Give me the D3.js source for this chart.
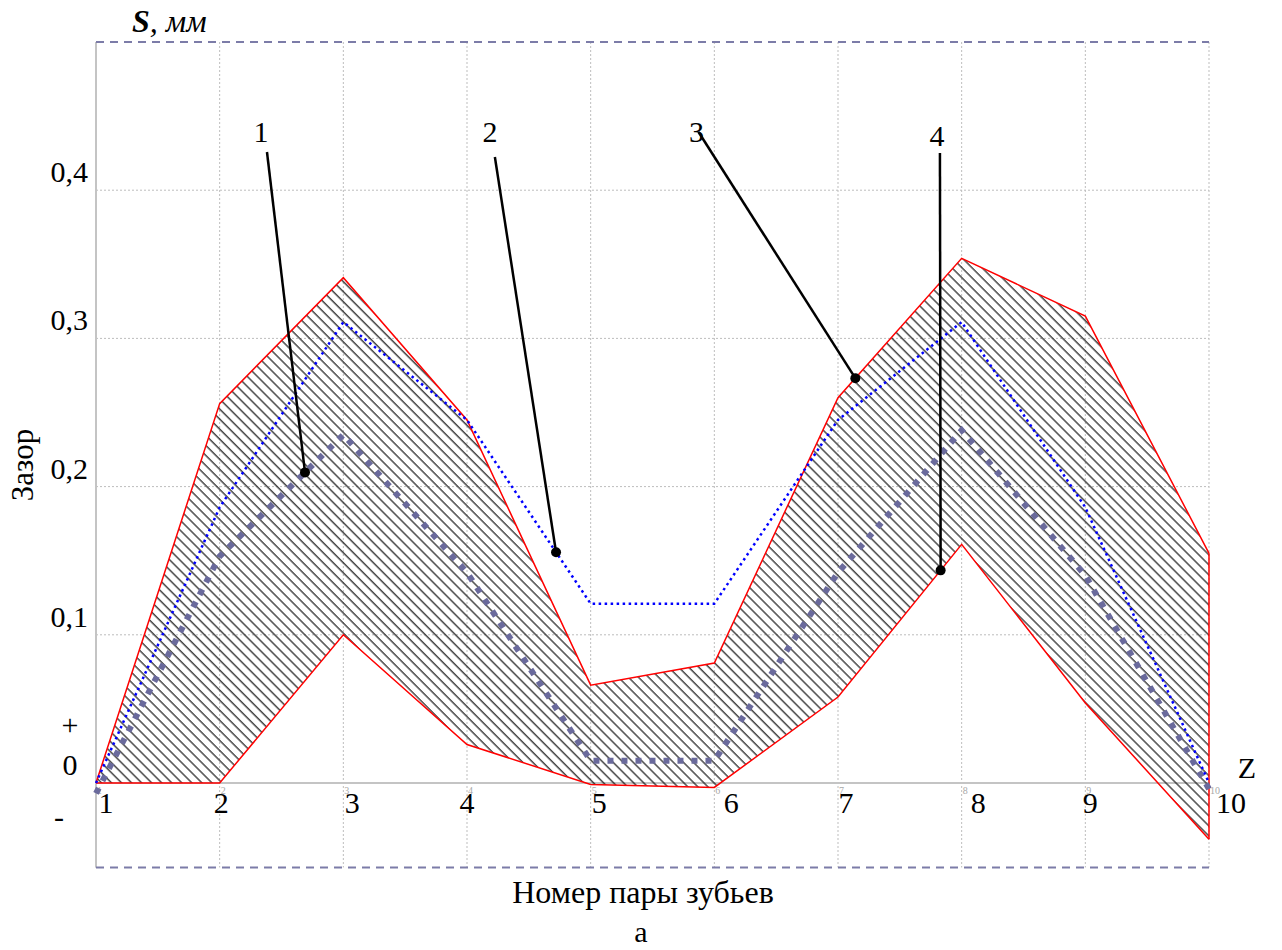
<!DOCTYPE html>
<html><head><meta charset="utf-8">
<script src="https://cdn.jsdelivr.net/npm/d3@7"></script>
<style>html,body{margin:0;padding:0;background:#fff;} svg{display:block;} text{font-family:"Liberation Serif","Times New Roman",serif;}</style>
</head><body>
<svg id="c" width="1282" height="950"></svg>
<script>
// ---- data ----
const pairs = [1,2,3,4,5,6,7,8,9,10];
const upperBound = [0, 0.256, 0.341, 0.245, 0.066, 0.081, 0.260, 0.354, 0.315, 0.155];
const lowerBound = [0, 0, 0.100, 0.026, -0.001, -0.003, 0.058, 0.161, 0.054, -0.038];
const blueSeries = [0, 0.186, 0.311, 0.245, 0.121, 0.121, 0.245, 0.311, 0.186, 0];
const meanSeries = [-0.007, 0.153, 0.235, 0.142, 0.015, 0.015, 0.142, 0.238, 0.140, -0.004];
const yTicks = [0.1, 0.2, 0.3, 0.4];
const yTickLabels = ["0,1", "0,2", "0,3", "0,4"];
const xTickLabels = ["1","2","3","4","5","6","7","8","9","10"];
const annoLabels = ["1","2","3","4"];
const annoTargetX = [2.69, 4.72, 7.14, 7.83];
const annoLabelX = [2.334, 4.185, 5.856, 7.80];

// ---- layout ----
const svg = d3.select("#c");
const x = d3.scaleLinear().domain([1,10]).range([96,1209]);
const y = d3.scaleLinear().domain([0,0.5]).range([783,42]);
const yBottom = y(-0.057);
const labelDx = [10,1.5,9,0,8.5,17,8,16.5,5,22];
const FS = 30;

// hatch pattern (backslash direction)
const defs = svg.append("defs");
const pat = defs.append("pattern").attr("id","hatch").attr("patternUnits","userSpaceOnUse")
  .attr("width",7.1).attr("height",10).attr("patternTransform","rotate(-45)");
pat.append("line").attr("x1",1).attr("y1",-1).attr("x2",1).attr("y2",11)
  .attr("stroke","#222").attr("stroke-width",1.25);

// grid
const grid = svg.append("g");
grid.selectAll("line.v").data(pairs).join("line")
  .attr("x1",d=>x(d)).attr("x2",d=>x(d)).attr("y1",y(0.5)).attr("y2",yBottom)
  .attr("stroke","#bdbdbd").attr("stroke-width",1).attr("stroke-dasharray","2,2");
grid.selectAll("line.h").data(yTicks).join("line")
  .attr("x1",x(1)).attr("x2",x(10)).attr("y1",d=>y(d)).attr("y2",d=>y(d))
  .attr("stroke","#bdbdbd").attr("stroke-width",1).attr("stroke-dasharray","2,2");

// left axis & zero line
svg.append("line").attr("x1",x(1)).attr("x2",x(1)).attr("y1",y(0.5)).attr("y2",yBottom)
  .attr("stroke","#c4c4c4").attr("stroke-width",2);
svg.append("line").attr("x1",x(1)).attr("x2",x(10)).attr("y1",y(0)).attr("y2",y(0))
  .attr("stroke","#c4c4c4").attr("stroke-width",2);

// dashed frame lines
svg.append("line").attr("x1",x(1)).attr("x2",x(10)).attr("y1",y(0.5)).attr("y2",y(0.5))
   .attr("stroke","#7c7ca8").attr("stroke-width",2).attr("stroke-dasharray","8,6");
svg.append("line").attr("x1",x(1)).attr("x2",x(10)).attr("y1",yBottom).attr("y2",yBottom)
   .attr("stroke","#7c7ca8").attr("stroke-width",2).attr("stroke-dasharray","8,6");

// small gray tick numbers
svg.selectAll("text.small").data(pairs).join("text")
  .attr("x",d=>x(d)+1).attr("y",y(0)+11).attr("font-size",10).attr("fill","#a8a8a8")
  .text(d=>d);

// band
const band = pairs.map((p,i)=>({p, lo:lowerBound[i], hi:upperBound[i]}));
const area = d3.area().x(d=>x(d.p)).y0(d=>y(d.lo)).y1(d=>y(d.hi));
svg.append("path").datum(band).attr("d",area).attr("fill","url(#hatch)").attr("stroke","none");
const lineGen = d3.line().x((d,i)=>x(pairs[i])).y(d=>y(d));
svg.append("path").datum(upperBound).attr("d",lineGen).attr("fill","none").attr("stroke","#ff0000").attr("stroke-width",1.5);
svg.append("path").datum(lowerBound).attr("d",lineGen).attr("fill","none").attr("stroke","#ff0000").attr("stroke-width",1.5);
svg.append("line").attr("x1",x(10)).attr("x2",x(10)).attr("y1",y(upperBound[9])).attr("y2",y(lowerBound[9]))
  .attr("stroke","#ff0000").attr("stroke-width",1.5);

// series
svg.append("path").datum(meanSeries).attr("d",lineGen).attr("fill","none")
  .attr("stroke","#6a6a9c").attr("stroke-width",6).attr("stroke-dasharray","6,8");
svg.append("path").datum(blueSeries).attr("d",lineGen).attr("fill","none")
  .attr("stroke","#0000ff").attr("stroke-width",2.5).attr("stroke-dasharray","2.5,3.5");

// annotations
function interp(arr, xv){
  const i = Math.floor(xv)-1, t = xv - Math.floor(xv);
  return arr[i] + (arr[i+1]-arr[i])*t;
}
const annoSeries = [meanSeries, blueSeries, upperBound, lowerBound];
const annoLineTopPx = [152, 157, 132, 153];
const annoLineDx = [6, 5, 2, 3];
annoLabels.forEach((lab,k)=>{
  const tx = x(annoTargetX[k]), ty = y(interp(annoSeries[k], annoTargetX[k]));
  const lx = x(annoLabelX[k]);
  svg.append("line").attr("x1",lx+annoLineDx[k]).attr("y1",annoLineTopPx[k]).attr("x2",tx).attr("y2",ty)
    .attr("stroke","#000").attr("stroke-width",2.5);
  svg.append("circle").attr("cx",tx).attr("cy",ty).attr("r",5).attr("fill","#000");
  svg.append("text").attr("x",lx).attr("y",k===3?146:142).attr("text-anchor","middle").attr("font-size",FS).text(lab);
});

// axis labels
svg.selectAll("text.yl").data(yTicks).join("text")
  .attr("x",88).attr("y",d=>y(d)-8).attr("text-anchor","end").attr("font-size",FS)
  .text((d,i)=>yTickLabels[i]);
svg.selectAll("text.xl").data(pairs).join("text")
  .attr("x",(d,i)=>x(d)+labelDx[i]).attr("y",y(0)+30).attr("text-anchor","middle").attr("font-size",FS)
  .text((d,i)=>xTickLabels[i]);

svg.append("text").attr("x",70).attr("y",775).attr("text-anchor","middle").attr("font-size",FS).text("0");
svg.append("text").attr("x",70).attr("y",735).attr("text-anchor","middle").attr("font-size",FS).text("+");
svg.append("text").attr("x",59).attr("y",827).attr("text-anchor","middle").attr("font-size",FS).text("-");
svg.append("text").attr("x",1247).attr("y",778).attr("text-anchor","middle").attr("font-size",FS).text("Z");

const st = svg.append("text").attr("x",132).attr("y",32).attr("font-size",32);
st.append("tspan").attr("font-weight","bold").attr("font-style","italic").text("S");
st.append("tspan").attr("font-style","italic").text(", мм");

svg.append("text").attr("transform","translate(33,465) rotate(-90)").attr("text-anchor","middle")
  .attr("font-size",31).text("Зазор");
svg.append("text").attr("x",643).attr("y",903).attr("text-anchor","middle").attr("font-size",32).text("Номер пары зубьев");
svg.append("text").attr("x",641).attr("y",942).attr("text-anchor","middle").attr("font-size",FS).text("а");
</script>
</body></html>
